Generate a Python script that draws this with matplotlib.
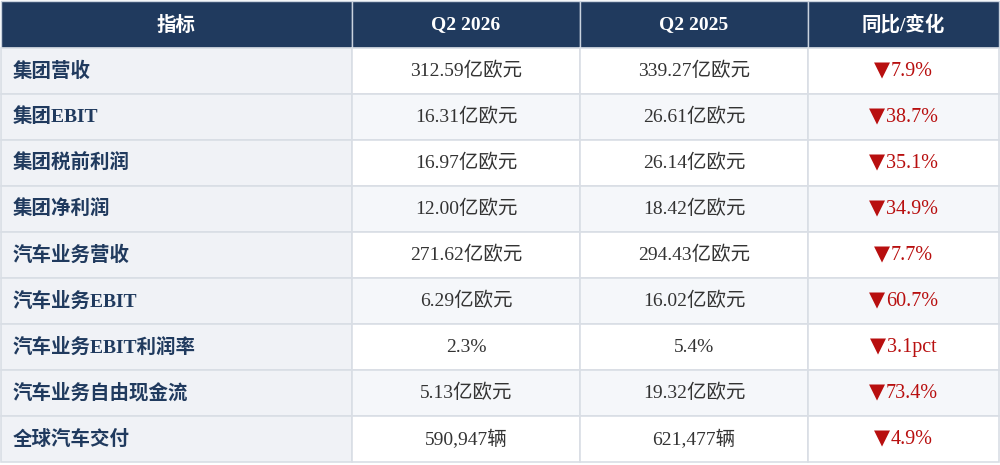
import matplotlib.pyplot as plt
from matplotlib.patches import Rectangle

# table content
headers = ['指标', 'Q2 2026', 'Q2 2025', '同比/变化']
metrics = ['集团营收', '集团EBIT', '集团税前利润', '集团净利润', '汽车业务营收',
           '汽车业务EBIT', '汽车业务EBIT利润率', '汽车业务自由现金流', '全球汽车交付']
q2_2026 = ['312.59亿欧元', '16.31亿欧元', '16.97亿欧元', '12.00亿欧元', '271.62亿欧元',
           '6.29亿欧元', '2.3%', '5.13亿欧元', '590,947辆']
q2_2025 = ['339.27亿欧元', '26.61亿欧元', '26.14亿欧元', '18.42亿欧元', '294.43亿欧元',
           '16.02亿欧元', '5.4%', '19.32亿欧元', '621,477辆']
changes = ['7.9%', '38.7%', '35.1%', '34.9%', '7.7%', '60.7%', '3.1pct', '73.4%', '4.9%']

navy = '#203a5e'
red = '#b80f0f'
grid = '#d9dee5'
fam = ['Liberation Serif', 'Noto Sans CJK SC', 'DejaVu Sans']

col_edges = [1, 352, 580, 808, 999]
header_h = 48
row_h = 46

fig = plt.figure(figsize=(10, 4.65), dpi=100)
ax = fig.add_axes([0, 0, 1, 1])
ax.set_xlim(0, 1000)
ax.set_ylim(465, 0)
ax.axis('off')
renderer = fig.canvas.get_renderer()

# header
for c in range(4):
    x0, x1 = col_edges[c], col_edges[c + 1]
    ax.add_patch(Rectangle((x0, 1), x1 - x0, header_h - 1, facecolor=navy,
                           edgecolor='#c9d2de', linewidth=1))
    ax.text((x0 + x1) / 2, header_h / 2 + 1, headers[c], color='white',
            fontsize=14, fontweight='bold', ha='center', va='center', family=fam)

# body
for r in range(len(metrics)):
    y0 = header_h + r * row_h
    yc = y0 + row_h / 2
    for c in range(4):
        x0, x1 = col_edges[c], col_edges[c + 1]
        if c == 0:
            fc = '#f0f2f6'
        else:
            fc = '#ffffff' if r % 2 == 0 else '#f5f7fa'
        ax.add_patch(Rectangle((x0, y0), x1 - x0, row_h, facecolor=fc,
                               edgecolor=grid, linewidth=1.2))
    ax.text(13, yc, metrics[r], color=navy, fontsize=14, fontweight='bold',
            ha='left', va='center', family=fam)
    ax.text((col_edges[1] + col_edges[2]) / 2, yc, q2_2026[r], color='#333333',
            fontsize=14, ha='center', va='center', family=fam)
    ax.text((col_edges[2] + col_edges[3]) / 2, yc, q2_2025[r], color='#333333',
            fontsize=14, ha='center', va='center', family=fam)

    # change column: bigger triangle + number, centred together
    cx = (col_edges[3] + col_edges[4]) / 2
    num = ax.text(0, yc, changes[r], color=red, fontsize=14.5, ha='left',
                  va='center', family=fam)
    tri = ax.text(0, yc + 5, '\u25bc', color=red, fontsize=15, ha='left',
                  va='baseline', family=['DejaVu Sans'])
    wt = tri.get_window_extent(renderer).width
    wn = num.get_window_extent(renderer).width
    left = cx - (wt + wn + 1) / 2
    tri.set_x(left)
    num.set_x(left + wt + 1)

fig.savefig('out.png', dpi=100)
